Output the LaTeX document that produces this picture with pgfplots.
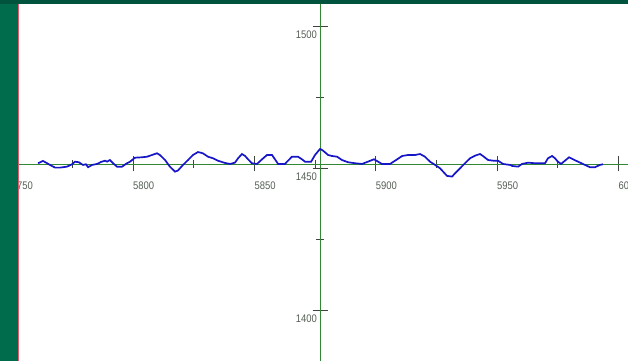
\documentclass[border=0pt]{standalone}
\usepackage{pgfplots}
\pgfplotsset{compat=1.18}
\usepackage{fontspec}
\setmainfont{Liberation Sans}
\newfontfamily\tickfont[FakeStretch=0.86]{Liberation Sans}
\definecolor{bggreen}{RGB}{0,108,76}
\definecolor{topgreen}{RGB}{0,84,62}
\definecolor{axgreen}{RGB}{50,135,50}
\definecolor{curveblue}{RGB}{22,22,200}
\definecolor{lblgray}{RGB}{85,95,85}
\definecolor{edgepink}{RGB}{225,90,110}
\definecolor{tickgray}{RGB}{60,70,60}
\pgfplotstableread{
x y
5760.9 1451.85
5762.9 1452.66
5764.6 1451.85
5765.8 1451.25
5767.9 1450.3
5769.9 1450.3
5772.8 1450.65
5774.9 1451.5
5776.1 1452.4
5777.7 1452.2
5779.4 1451.25
5780.6 1451.5
5781.5 1450.45
5783.1 1451.25
5785.2 1451.6
5786.8 1452.3
5788.5 1452.75
5789.3 1452.4
5790.5 1453.0
5791.8 1451.85
5793.4 1450.65
5795.5 1450.65
5797.5 1451.85
5798.8 1452.4
5800.8 1453.8
5803.7 1453.95
5805.8 1454.15
5807.8 1454.75
5809.9 1455.35
5811.1 1454.75
5813.2 1453.0
5815.2 1450.65
5817.3 1448.9
5818.5 1449.25
5820.6 1451.25
5822.7 1453.0
5824.7 1454.75
5826.8 1455.8
5828.8 1455.35
5830.9 1454.15
5833.0 1453.6
5835.0 1452.75
5837.9 1451.95
5840.0 1451.6
5842.0 1452.05
5843.3 1453.6
5844.9 1455.1
5846.2 1454.4
5847.4 1453.25
5849.0 1451.85
5851.1 1451.6
5853.2 1453.25
5855.2 1454.75
5857.3 1454.75
5858.5 1453.25
5859.8 1451.6
5862.6 1451.6
5863.9 1452.75
5865.5 1454.15
5868.0 1454.15
5869.6 1453.25
5870.9 1452.4
5873.4 1452.4
5875.0 1454.75
5877.1 1456.9
5878.3 1456.3
5880.4 1454.75
5882.0 1454.4
5884.1 1454.15
5886.1 1453.0
5888.6 1452.2
5891.5 1451.85
5894.4 1451.6
5896.8 1452.4
5899.3 1453.25
5901.0 1452.4
5902.6 1451.6
5905.9 1451.6
5908.0 1452.75
5910.9 1454.4
5913.3 1454.75
5916.2 1454.75
5918.3 1455.1
5920.3 1454.15
5922.4 1452.4
5924.5 1451.25
5926.5 1450.1
5929.4 1447.4
5931.5 1447.15
5932.7 1448.3
5934.8 1450.1
5936.8 1451.85
5938.9 1453.6
5940.9 1454.5
5943.0 1455.1
5944.2 1454.4
5946.3 1453.0
5948.4 1452.75
5950.4 1452.75
5952.5 1451.6
5955.4 1451.25
5956.2 1450.9
5958.7 1450.65
5960.3 1451.6
5962.8 1452.05
5965.7 1451.85
5969.8 1451.85
5971.0 1453.6
5972.7 1454.4
5973.9 1453.6
5975.1 1452.4
5976.4 1451.6
5978.0 1452.75
5979.7 1453.95
5981.3 1453.25
5983.4 1452.4
5985.4 1451.6
5988.3 1450.45
5990.4 1450.45
5992.4 1451.25
5993.7 1451.5
}\curvedata
\begin{document}
\begin{tikzpicture}[x=1pt,y=1pt]
\path[use as bounding box] (0,0) rectangle (628,361);
\fill[bggreen] (0,0) rectangle (628,361);
\fill[topgreen] (0,357) rectangle (628,361);
\fill[white] (18,0) rectangle (628,357);
\begin{scope}
\clip (18,0) rectangle (628,357);
\begin{axis}[at={(-0.47pt,0pt)}, anchor=south west, scale only axis,
  width=628.5pt, height=357pt,
  xmin=5745, xmax=6004, ymin=1382.22, ymax=1507.92,
  axis x line=bottom, axis y line=left,
  axis x line shift=-197pt, axis y line shift=-320.5pt,
  axis line style={-, axgreen, line width=0.9pt},
  xtick={5750,5800,...,6000}, minor xtick={5775,5825,...,5975},
  ytick={1400,1450,1500}, minor ytick={1425,1475},
  tick align=center, major tick length=15pt, minor tick length=8pt,
  tick style={tickgray, line width=0.8pt},
  /pgf/number format/assume math mode=true,
  /pgf/number format/set thousands separator={},
  ticklabel style={font=\tickfont\fontsize{11}{13}\selectfont, text=lblgray, inner sep=0pt},
  xticklabel style={anchor=north west, yshift=-10pt},
  yticklabel style={anchor=north east, xshift=4.5pt, yshift=-4pt},
  clip=false,
]
\addplot[curveblue, line width=1.7pt, no markers] table[x=x,y=y] {\curvedata};
\end{axis}
\end{scope}
\draw[edgepink, line width=1pt] (18.5,0) -- (18.5,357);
\end{tikzpicture}
\end{document}
